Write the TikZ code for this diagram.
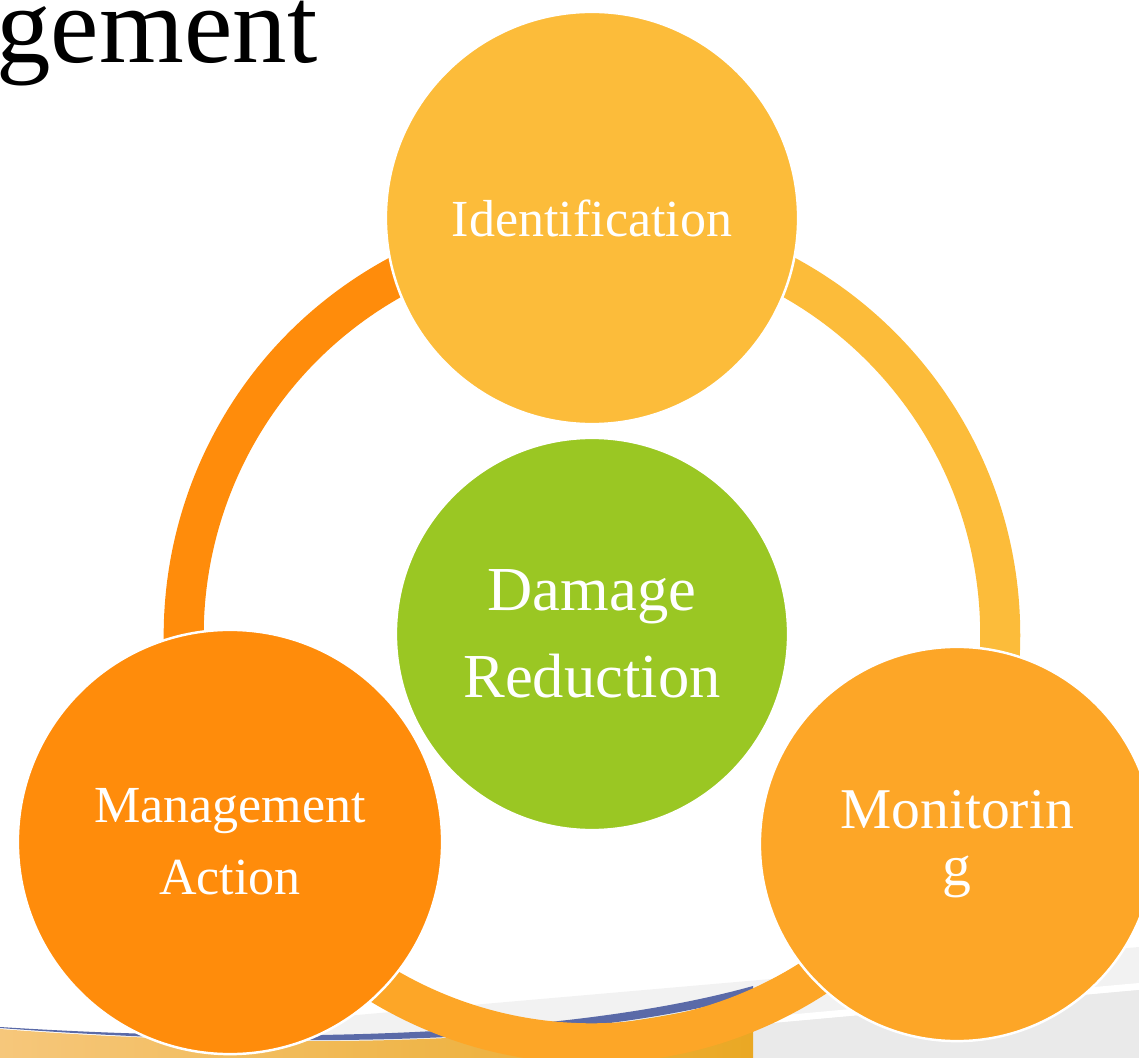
\documentclass[tikz,border=0pt]{standalone}
\usepackage{fontspec}
\setmainfont{Liberation Serif}
\usetikzlibrary{calc}
\definecolor{identfill}{HTML}{FCBC3A}
\definecolor{damagefill}{HTML}{9AC723}
\definecolor{actionfill}{HTML}{FF8C0B}
\definecolor{monitorfill}{HTML}{FDA627}
\definecolor{bandgray}{HTML}{F2F2F2}
\definecolor{lowgray}{HTML}{EAEAEA}
\definecolor{swoosh}{HTML}{5A6AA8}
\definecolor{sandleft}{HTML}{F6C77B}
\definecolor{sandright}{HTML}{EAA824}

\begin{document}
\begin{tikzpicture}[
    x=0.01cm, y=-0.01cm,
    stage/.style={circle,draw=white,line width=0.7pt,inner sep=0pt,align=center,text=white},
    ringarc/.style={line width=4mm}
  ]
    \useasboundingbox (0,0) rectangle (1139,1058);
    \clip (0,0) rectangle (1139,1058);

    % Slide background
    \fill[bandgray] (0,1046) -- (1139,947) -- (1139,1058) -- (0,1058) -- cycle;
    \fill[white] (0,1086) -- (1139,983) -- (1139,990) -- (0,1093) -- cycle;
    \fill[lowgray] (0,1093) -- (1139,990) -- (1139,1058) -- (0,1058) -- cycle;
    \shade[left color=sandleft,right color=sandright]
      (0,1029) .. controls (250,1048) and (560,1050) .. (753,996) -- (753,1058) -- (0,1058) -- cycle;
    \fill[swoosh]
      (0,1028) .. controls (250,1047) and (560,1049) .. (753,995)
      -- (753,986) .. controls (560,1040) and (250,1043) .. (0,1027) -- cycle;

    % Title (cut off)
    \node[anchor=base east,inner sep=0pt,font=\fontsize{31}{36}\selectfont] (title) at (318,63) {gement};

    % Cycle ring
    \coordinate (ring) at (592,635);
    \draw[ringarc,identfill] ($(ring)+(90:4.08cm)$) arc[start angle=90,end angle=-30,radius=4.08cm];
    \draw[ringarc,monitorfill] ($(ring)+(-30:4.08cm)$) arc[start angle=-30,end angle=-150,radius=4.08cm];
    \draw[ringarc,actionfill] ($(ring)+(210:4.08cm)$) arc[start angle=210,end angle=90,radius=4.08cm];

    % Stages
    \node[stage,fill=identfill,minimum size=4.12cm,font=\fontsize{14.8}{20.5}\selectfont] (ident) at (592,218) {Identification};
    \node[stage,fill=damagefill,minimum size=3.92cm,font=\fontsize{17.8}{24.8}\selectfont] (damage) at (592,634) {Damage\\Reduction};
    \node[stage,fill=actionfill,minimum size=4.24cm,font=\fontsize{14.8}{20.5}\selectfont] (action) at (230,842) {Management\\Action};
    \node[stage,fill=monitorfill,minimum size=3.94cm,font=\fontsize{16.4}{16.4}\selectfont] (monitor) at (957,844) {Monitorin\\g};
  \end{tikzpicture}
\end{document}
